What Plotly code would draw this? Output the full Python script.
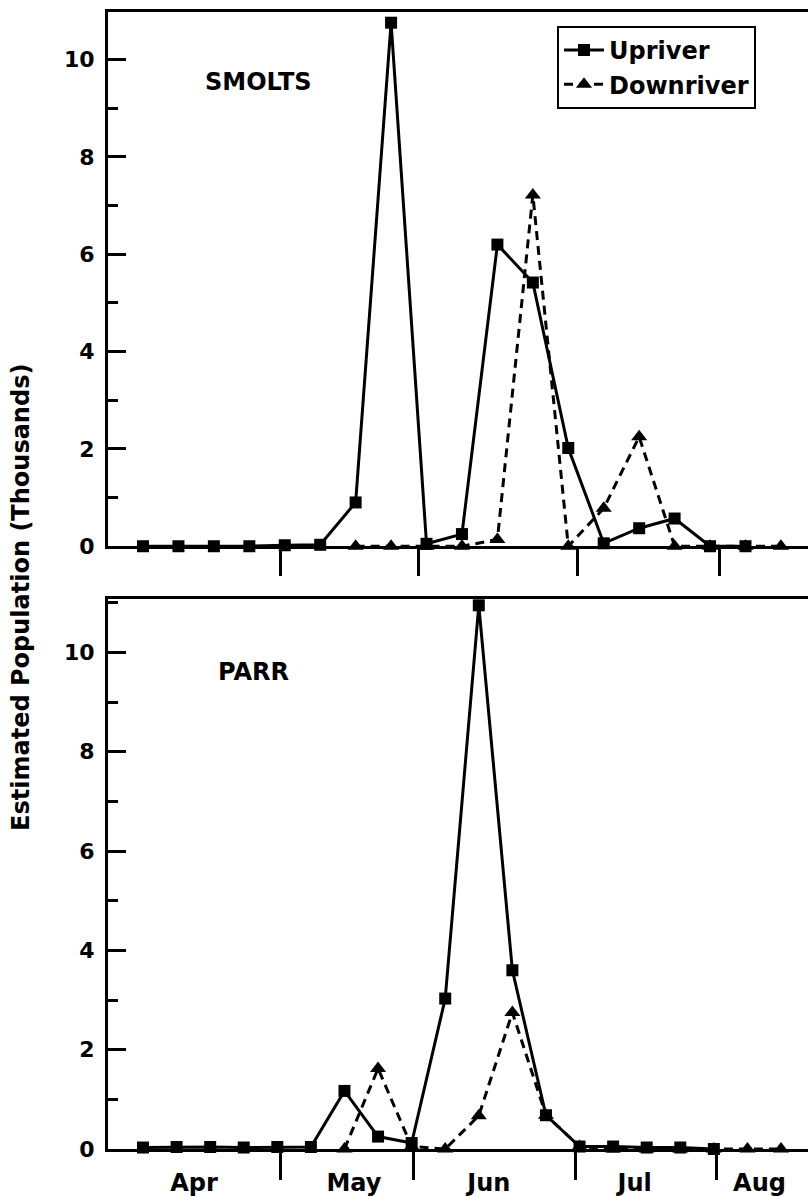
import plotly.graph_objects as go

# ---------------- data ----------------
smolt_sample = list(range(19))          # weekly sampling periods (SMOLTS panel)
smolt_upriver = [0, 0, 0, 0, 0.02, 0.03, 0.9, 10.76, 0.05, 0.25, 6.2, 5.42,
                 2.02, 0.06, 0.37, 0.57, 0, 0, None]
smolt_downriver = [None, None, None, None, None, None, 0, 0, 0, 0, 0.14, 7.22,
                   0, 0.78, 2.25, 0, 0, 0, 0]

parr_sample = list(range(20))           # sampling periods (PARR panel)
parr_upriver = [0.03, 0.04, 0.04, 0.03, 0.04, 0.04, 1.17, 0.25, 0.12, 3.03,
                10.95, 3.6, 0.68, 0.05, 0.05, 0.03, 0.03, 0.0, None, None]
parr_downriver = [None, None, None, None, None, None, 0, 1.62, 0.05, 0, 0.67,
                  2.75, 0.68, 0.05, 0, 0, 0, 0, 0, 0]

months = ["Apr", "May", "Jun", "Jul", "Aug"]
smolt_month_bounds = [3.87, 7.77, 12.26, 16.27]
parr_month_bounds = [4.08, 8.07, 12.89, 17.08]
parr_month_centers = [1.52, 6.28, 10.3, 14.64, 18.36]

y_major = [0, 2, 4, 6, 8, 10]

# ---------------- figure ----------------
FONT = "DejaVu Sans"
fig = go.Figure()

def add_series(x, up, down, xa, ya, show):
    fig.add_trace(go.Scatter(
        x=x, y=down, mode="lines+markers", name="Downriver",
        line=dict(color="black", width=3, dash="9px,6px"),
        marker=dict(symbol="triangle-up", size=14, color="black"),
        xaxis=xa, yaxis=ya, showlegend=show, cliponaxis=False,
        connectgaps=False))
    fig.add_trace(go.Scatter(
        x=x, y=up, mode="lines+markers", name="Upriver",
        line=dict(color="black", width=3),
        marker=dict(symbol="square", size=12, color="black"),
        xaxis=xa, yaxis=ya, showlegend=show, cliponaxis=False,
        connectgaps=False))

add_series(smolt_sample, smolt_upriver, smolt_downriver, "x", "y", True)
add_series(parr_sample, parr_upriver, parr_downriver, "x2", "y2", False)

W, H = 808, 1197
ml, mr, mt, mb = 108, 0, 12, 40
ph = H - mt - mb

def py(pix):
    return 1 - (pix - mt) / ph

def px(pix):
    return (pix - ml) / (W - ml - mr)

axis_common = dict(showline=True, linecolor="black", linewidth=3,
                   showgrid=False, zeroline=False)

yaxis_common = dict(
    **axis_common, mirror=False,
    tickmode="array", tickvals=y_major, ticks="inside", ticklen=18,
    tickwidth=2.5, tickcolor="black",
    minor=dict(tickmode="linear", tick0=1, dtick=2, ticks="inside",
               ticklen=10, tickwidth=2.5, tickcolor="black"),
    tickfont=dict(family=FONT, size=22, color="black", weight="bold"),
    ticklabelstandoff=6,
)

fig.update_layout(
    width=W, height=H,
    margin=dict(l=ml, r=mr, t=mt, b=mb),
    paper_bgcolor="white", plot_bgcolor="white",
    showlegend=True,
    legend=dict(
        x=px(557), y=py(26), xanchor="left", yanchor="top",
        bordercolor="black", borderwidth=2, bgcolor="white",
        traceorder="reversed",
        font=dict(family=FONT, size=24, color="black", weight="bold"),
        itemwidth=40, tracegroupgap=0,
        entrywidth=238, entrywidthmode="pixels",
    ),
    xaxis=dict(
        **axis_common, mirror=True, domain=[0, 1], anchor="y",
        range=[(108 - 143) / 35.44, (808 - 143) / 35.44],
        tickmode="array", tickvals=smolt_month_bounds, ticks="outside",
        ticklen=27, tickwidth=2.5, tickcolor="black", showticklabels=False,
    ),
    yaxis=dict(**yaxis_common, domain=[py(550), 1], anchor="x",
               range=[0, 10.98]),
    xaxis2=dict(
        **axis_common, mirror=True, domain=[0, 1], anchor="y2",
        range=[(108 - 143) / 33.58, (808 - 143) / 33.58],
        tickmode="array", tickvals=parr_month_centers, ticktext=months,
        ticks="outside", ticklen=10, tickcolor="rgba(0,0,0,0)",
        tickfont=dict(family=FONT, size=24, color="black", weight="bold"),
        minor=dict(tickmode="array", tickvals=parr_month_bounds,
                   ticks="outside", ticklen=28, tickwidth=2.5,
                   tickcolor="black"),
    ),
    yaxis2=dict(**yaxis_common, domain=[0, py(603)], anchor="x2",
                range=[0, 11.08]),
)

title_font = dict(family=FONT, size=24, color="black", weight="bold")
fig.add_annotation(text="SMOLTS", xref="paper", yref="paper",
                   x=px(258), y=py(82), xanchor="center", yanchor="middle",
                   showarrow=False, font=title_font)
fig.add_annotation(text="PARR", xref="paper", yref="paper",
                   x=px(253), y=py(677), xanchor="center", yanchor="middle",
                   showarrow=False, font=title_font)
fig.add_annotation(text="Estimated Population (Thousands)", xref="paper",
                   yref="paper", x=px(21), y=py(602), xanchor="center",
                   yanchor="middle", textangle=-90, showarrow=False,
                   font=title_font)

fig.write_html("out.html")
